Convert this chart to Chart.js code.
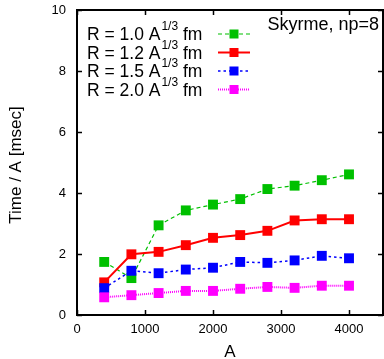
<!DOCTYPE html>
<html>
<head>
<meta charset="utf-8">
<script src="https://cdn.jsdelivr.net/npm/chart.js@4/dist/chart.umd.min.js"></script>
<style>
  html, body { margin: 0; padding: 0; background: #fff; }
  #wrap { width: 384px; height: 359px; }
</style>
</head>
<body>
<div id="wrap"><canvas id="myChart" width="384" height="359"></canvas></div>
<script>
const sizes = [400, 800, 1200, 1600, 2000, 2400, 2800, 3200, 3600, 4000];
const timeR10 = [1.74, 1.21, 2.94, 3.43, 3.62, 3.80, 4.13, 4.24, 4.42, 4.61];
const timeR12 = [1.07, 1.99, 2.07, 2.29, 2.53, 2.62, 2.76, 3.10, 3.14, 3.14];
const timeR15 = [0.88, 1.45, 1.37, 1.49, 1.55, 1.74, 1.71, 1.79, 1.94, 1.86];
const timeR20 = [0.58, 0.65, 0.72, 0.79, 0.79, 0.86, 0.92, 0.89, 0.96, 0.96];
const radii = ["1.0", "1.2", "1.5", "2.0"];
const xTicks = [0, 1000, 2000, 3000, 4000];
const yTicks = [0, 2, 4, 6, 8, 10];

const FONT = "'Liberation Sans', Arial, Helvetica, sans-serif";

const styles = [
  { color: "#00c000", width: 1.2, dash: [4, 3] },
  { color: "#ff0000", width: 2, dash: [] },
  { color: "#0000ff", width: 1.5, dash: [2.5, 3] },
  { color: "#ff00ff", width: 2, dash: [1, 1] },
];

function makeSet(values, i) {
  return {
    label: "R = " + radii[i],
    data: sizes.map((a, k) => ({ x: a, y: values[k] })),
    showLine: true,
    borderColor: styles[i].color,
    backgroundColor: styles[i].color,
    borderWidth: styles[i].width,
    borderDash: styles[i].dash,
    pointStyle: "rect",
    pointRadius: 7,
    pointBorderWidth: 0,
    pointHoverRadius: 7,
    order: 4 - i,
  };
}

// no half-label padding around the plot, the frame sits where gnuplot puts it
function noPad(scale) {
  scale.paddingTop = 0;
  scale.paddingBottom = 0;
  scale.paddingLeft = 0;
  scale.paddingRight = 0;
}

// frame, inward ticks, titles and the legend, gnuplot style
const gnuplotLook = {
  id: "gnuplotLook",
  afterDraw(chart) {
    const ctx = chart.ctx;
    const area = chart.chartArea;
    const xs = chart.scales.x;
    const ys = chart.scales.y;
    ctx.save();
    ctx.strokeStyle = "#000";
    ctx.lineWidth = 2;
    ctx.setLineDash([]);
    ctx.strokeRect(area.left, area.top, area.right - area.left, area.bottom - area.top);

    ctx.lineWidth = 1.5;
    ctx.beginPath();
    xTicks.forEach((t) => {
      const px = Math.round(xs.getPixelForValue(t)) + 0.5;
      ctx.moveTo(px, area.bottom);
      ctx.lineTo(px, area.bottom - 5);
      ctx.moveTo(px, area.top);
      ctx.lineTo(px, area.top + 5);
    });
    yTicks.forEach((t) => {
      const py = Math.round(ys.getPixelForValue(t)) + 0.5;
      ctx.moveTo(area.left, py);
      ctx.lineTo(area.left + 5, py);
      ctx.moveTo(area.right, py);
      ctx.lineTo(area.right - 5, py);
    });
    ctx.stroke();

    // axis titles
    ctx.fillStyle = "#000";
    ctx.font = "17px " + FONT;
    ctx.textAlign = "center";
    ctx.textBaseline = "alphabetic";
    ctx.fillText("A", 230, 357);
    ctx.save();
    ctx.translate(21, 165);
    ctx.rotate(-Math.PI / 2);
    ctx.fillText("Time / A [msec]", 0, 0);
    ctx.restore();

    // key
    ctx.font = "18px " + FONT;
    ctx.textAlign = "right";
    ctx.fillText("Skyrme, np=8", 379, 30);

    const rowY = [34, 52.5, 71, 89.5];
    radii.forEach((r, i) => {
      const base = rowY[i] + 6;
      let x = 87;
      ctx.textAlign = "left";
      ctx.font = "17.5px " + FONT;
      const main = "R = " + r + " A";
      ctx.fillText(main, x, base);
      x += ctx.measureText(main).width + 1;
      ctx.font = "12px " + FONT;
      ctx.fillText("1/3", x, base - 10);
      x += ctx.measureText("1/3").width;
      ctx.font = "17.5px " + FONT;
      ctx.fillText(" fm", x, base);

      const st = styles[i];
      ctx.strokeStyle = st.color;
      ctx.lineWidth = st.width;
      ctx.setLineDash(st.dash);
      ctx.beginPath();
      ctx.moveTo(218, rowY[i]);
      ctx.lineTo(250, rowY[i]);
      ctx.stroke();
      ctx.setLineDash([]);
      ctx.fillStyle = st.color;
      ctx.fillRect(234 - 4.5, rowY[i] - 4.5, 9, 9);
      ctx.fillStyle = "#000";
    });
    ctx.restore();
  },
};

const ctx = document.getElementById("myChart").getContext("2d");
new Chart(ctx, {
  type: "scatter",
  data: {
    datasets: [
      makeSet(timeR10, 0),
      makeSet(timeR12, 1),
      makeSet(timeR15, 2),
      makeSet(timeR20, 3),
    ],
  },
  options: {
    responsive: false,
    animation: false,
    events: [],
    layout: { autoPadding: false, padding: { top: 10, right: 1, left: 0, bottom: 0 } },
    plugins: {
      legend: { display: false },
      tooltip: { enabled: false },
    },
    scales: {
      x: {
        type: "linear",
        min: 0,
        max: 4500,
        afterFit: (scale) => { scale.height = 44; noPad(scale); },
        afterBuildTicks: (scale) => { scale.ticks = xTicks.map((v) => ({ value: v })); },
        grid: { display: false, drawTicks: false },
        border: { display: false },
        ticks: {
          color: "#000",
          padding: 7,
          maxRotation: 0,
          font: { family: FONT, size: 13 },
          callback: (v) => String(v),
        },
      },
      y: {
        min: 0,
        max: 10,
        afterFit: (scale) => { scale.width = 77; noPad(scale); },
        afterBuildTicks: (scale) => { scale.ticks = yTicks.map((v) => ({ value: v })); },
        grid: { display: false, drawTicks: false },
        border: { display: false },
        ticks: {
          color: "#000",
          padding: 11,
          font: { family: FONT, size: 13 },
          callback: (v) => String(v),
        },
      },
    },
  },
  plugins: [gnuplotLook],
});
</script>
</body>
</html>
